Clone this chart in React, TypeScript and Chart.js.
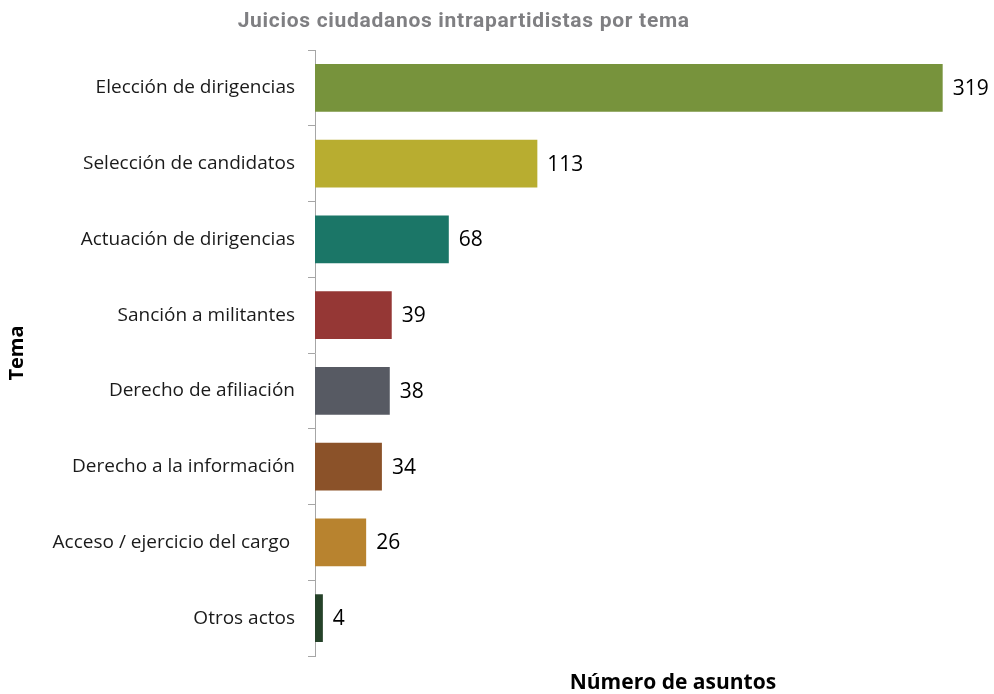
import React, { useEffect, useRef } from "react";
import { Chart, registerables } from "chart.js";

Chart.register(...registerables);

const categories = [
  "Elección de dirigencias",
  "Selección de candidatos",
  "Actuación de dirigencias",
  "Sanción a militantes",
  "Derecho de afiliación",
  "Derecho a la información",
  "Acceso / ejercicio del cargo ",
  "Otros actos",
];
const values = [319, 113, 68, 39, 38, 34, 26, 4];
const barColors = [
  "#77933c",
  "#b8ad30",
  "#1b7667",
  "#953735",
  "#575a63",
  "#8b5229",
  "#b8832f",
  "#254229",
];
const chartTitle = "Juicios ciudadanos intrapartidistas por tema";
const yTitle = "Tema";
const xTitle = "Número de asuntos";

const labelPlugin = {
  id: "valueLabels",
  afterDatasetsDraw(chart: any) {
    const ctx = chart.ctx;
    const meta = chart.getDatasetMeta(0);
    ctx.save();
    ctx.font = "21px 'Open Sans'";
    ctx.fillStyle = "#000000";
    ctx.textBaseline = "middle";
    ctx.textAlign = "left";
    meta.data.forEach((el: any, i: number) => {
      ctx.fillText(String(values[i]), el.x + 10, el.y + 1);
    });
    const a = chart.chartArea;
    // x axis title
    ctx.font = "bold 21px 'Open Sans'";
    ctx.textAlign = "center";
    ctx.fillText(xTitle, a.left + (a.right - a.left) * 0.535, a.bottom + 27);
    // chart title
    ctx.font = "bold 21px Roboto";
    (ctx as any).letterSpacing = "0.7px";
    ctx.fillStyle = "#7f7f82";
    ctx.fillText(chartTitle, chart.width * 0.4665, 22);
    ctx.restore();
  },
};

export default function App() {
  const ref = useRef<HTMLCanvasElement>(null);
  useEffect(() => {
    if (!ref.current) return;
    const chart = new Chart(ref.current, {
      type: "bar",
      data: {
        labels: categories,
        datasets: [
          {
            data: values,
            backgroundColor: barColors,
            categoryPercentage: 1,
            barPercentage: 0.63,
          },
        ],
      },
      options: {
        indexAxis: "y",
        animation: false,
        responsive: false,
        maintainAspectRatio: false,
        layout: { padding: { top: 50, bottom: 38, right: 10, left: 0 } },
        plugins: {
          legend: { display: false },
          tooltip: { enabled: false },
          title: { display: false },
        },
        scales: {
          x: {
            display: false,
            min: 0,
            max: 340,
          },
          y: {
            grid: {
              offset: true,
              drawOnChartArea: false,
              tickLength: 7,
              color: "#a6a6a6",
            },
            border: { color: "#a6a6a6", width: 1 },
            ticks: {
              color: "#1a1a1a",
              font: { family: "'Open Sans'", size: 19 },
              padding: 13,
            },
            title: {
              display: true,
              text: yTitle,
              color: "#000000",
              font: { family: "'Open Sans'", weight: "bold", size: 20 },
              padding: { top: 5, bottom: 0 },
            },
            afterFit: (s: any) => {
              s.width = 315;
            },
          },
        },
      },
      plugins: [labelPlugin],
    });
    return () => chart.destroy();
  }, []);
  return (
    <div style={{ position: "fixed", left: 0, top: 0, width: 994, height: 694, background: "#fff" }}>
      <canvas ref={ref} width={994} height={694} />
    </div>
  );
}
